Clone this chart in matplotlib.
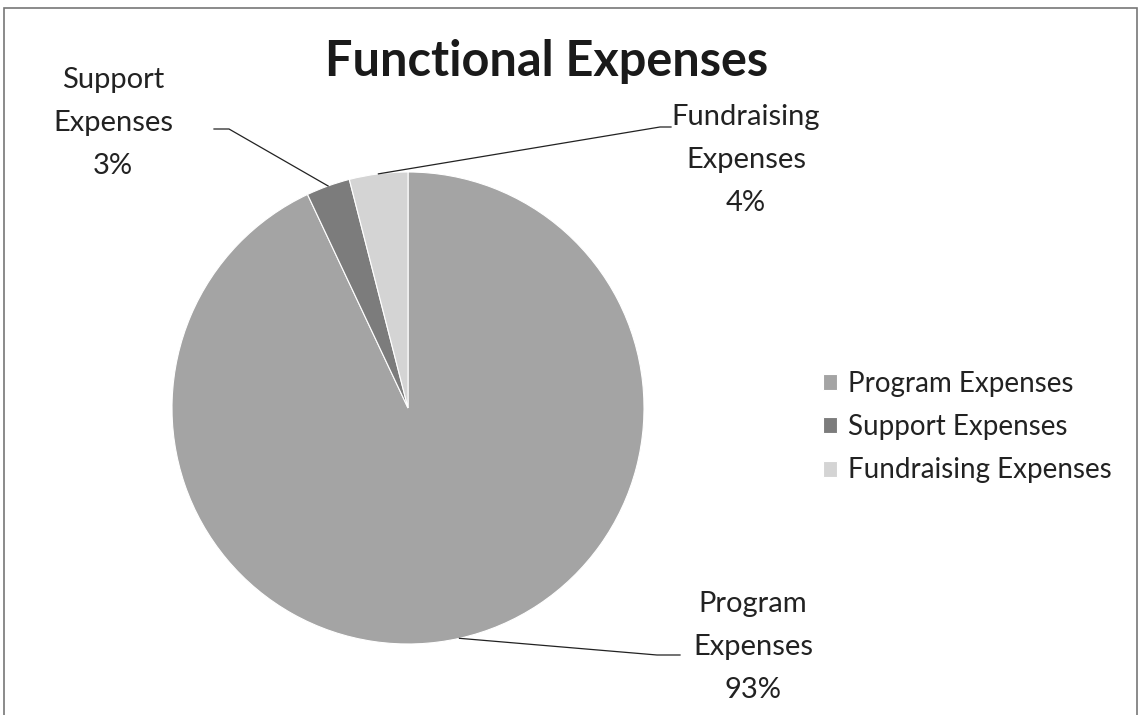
import numpy as np
import matplotlib
matplotlib.use("Agg")
import matplotlib.pyplot as plt
from matplotlib.patches import Rectangle

plt.rcParams['font.family'] = ['Lato', 'DejaVu Sans']

# data
categories = ['Program Expenses', 'Support Expenses', 'Fundraising Expenses']
label_lines = [['Program', 'Expenses'], ['Support', 'Expenses'], ['Fundraising', 'Expenses']]
values = [93, 3, 4]
colors = ['#a4a4a4', '#7c7c7c', '#d4d4d4']

W, H = 1141, 715
fig = plt.figure(figsize=(W / 100, H / 100), dpi=100)
ax = fig.add_axes([0, 0, 1, 1])

cx, cy, R = 408, H - 408, 236
wedges, _ = ax.pie(values, colors=colors, startangle=90, counterclock=False,
                   center=(cx, cy), radius=R,
                   wedgeprops=dict(edgecolor='white', linewidth=0.8))
ax.set_xlim(0, W)
ax.set_ylim(0, H)
ax.set_aspect('equal')
ax.axis('off')

# outer frame
ax.add_patch(Rectangle((4, -10), W - 8, H - 8 + 10, fill=False,
                       edgecolor='#777777', linewidth=1.2))

ax.text(547, H - 62, 'Functional Expenses', ha='center', va='center',
        fontsize=35, fontweight='bold', color='#1a1a1a')

# label layout: text centre x, first line y, elbow point, text-side point
label_pos = [
    dict(x=753, y=604, elbow=(657, 655), end=(680, 655)),
    dict(x=113, y=80, elbow=(229, 129), end=(214, 129)),
    dict(x=746, y=117, elbow=(660, 127), end=(671, 127)),
]
total = sum(values)
for w, lines, v, lp in zip(wedges, label_lines, values, label_pos):
    mid = np.deg2rad((w.theta1 + w.theta2) / 2)
    px = cx + R * np.cos(mid)
    py = cy + R * np.sin(mid)
    pct = '{:.0f}%'.format(100 * v / total)
    for i, t in enumerate(lines + [pct]):
        ax.text(lp['x'], H - (lp['y'] + 43 * i), t, ha='center', va='center',
                fontsize=21, color='#222222')
    ex, ey = lp['elbow']
    tx, ty = lp['end']
    ax.plot([px, ex, tx], [py, H - ey, H - ty], color='#222222', lw=0.9)

leg = ax.legend(wedges, categories, loc='upper left',
                bbox_to_anchor=(798 / W, 1 - 346 / H), frameon=False,
                fontsize=20, labelspacing=0.62, handlelength=0.5,
                handleheight=0.5, handletextpad=0.4, labelcolor='#222222')

fig.savefig('out.png', dpi=100)
